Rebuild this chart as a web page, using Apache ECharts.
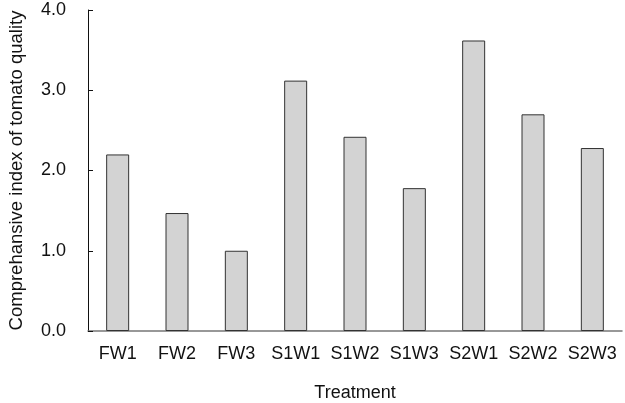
<!DOCTYPE html>
<html>
<head>
<meta charset="utf-8">
<script src="https://cdn.jsdelivr.net/npm/echarts@6/dist/echarts.min.js"></script>
<style>
  html, body { margin: 0; padding: 0; background: #fff; }
  #chart { width: 625px; height: 403px; }
</style>
</head>
<body>
<div id="chart"></div>
<script>
  // treatments along the x axis
  const treatments = ['FW1', 'FW2', 'FW3', 'S1W1', 'S1W2', 'S1W3', 'S2W1', 'S2W2', 'S2W3'];
  // comprehensive index
  const qualityIndex = [2.20, 1.47, 1.00, 3.12, 2.42, 1.78, 3.62, 2.70, 2.28];

  const font = 'Liberation Sans, Arial, sans-serif';

  const chart = echarts.init(document.getElementById('chart'));
  chart.setOption({
    animation: false,
    // keep the plot box fixed, names may sit close to the edge
    grid: { left: 88, right: 3, top: 10, bottom: 72, outerBoundsMode: 'none' },
    xAxis: {
      type: 'category',
      data: treatments,
      name: 'Treatment',
      nameLocation: 'middle',
      nameGap: 53,
      nameTextStyle: { fontFamily: font, fontSize: 18, color: '#111' },
      axisLine: { lineStyle: { color: '#777', width: 1.5 } },
      axisTick: { inside: true, length: 6, lineStyle: { color: '#222' } },
      axisLabel: { interval: 0, fontFamily: font, fontSize: 18, color: '#111', margin: 14 }
    },
    yAxis: {
      type: 'value',
      min: 0,
      max: 4,
      interval: 1,
      name: 'Comprehansive index of tomato quality',
      nameLocation: 'middle',
      nameGap: 62,
      nameTextStyle: { fontFamily: font, fontSize: 18.5, color: '#111' },
      splitLine: { show: false },
      axisLine: { show: true, lineStyle: { color: '#111' } },
      axisTick: { show: true, inside: true, length: 5, lineStyle: { color: '#111' } },
      axisLabel: {
        fontFamily: font, fontSize: 18, color: '#111', margin: 22,
        formatter: v => v.toFixed(1)
      }
    },
    series: [{
      type: 'bar',
      data: qualityIndex,
      barWidth: 23,
      itemStyle: { color: '#d3d3d3', borderColor: '#333', borderWidth: 1 }
    }]
  });
</script>
</body>
</html>
